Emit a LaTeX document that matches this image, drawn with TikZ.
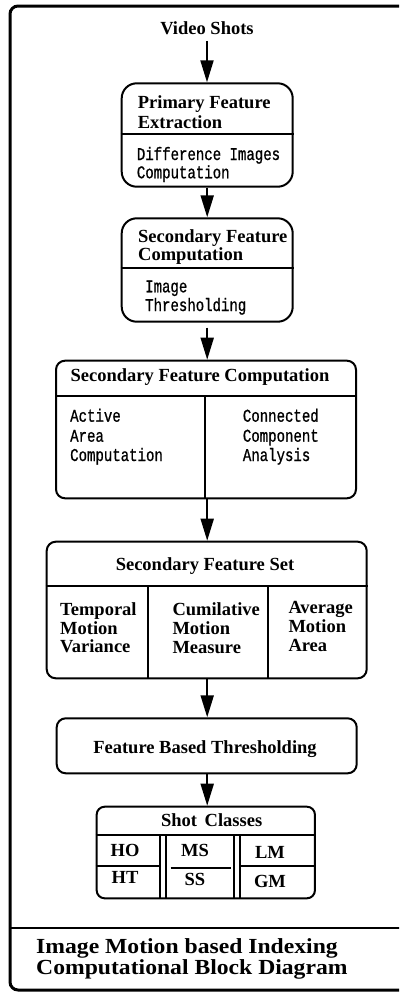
\documentclass[tikz,border=0pt]{standalone}
\usepackage{fontspec}
\setmainfont{Liberation Serif}
\newfontfamily\twfont[FakeStretch=0.78,FakeBold=0.8]{Liberation Mono}
\newfontfamily\footfont[FakeStretch=1.1]{Liberation Serif}
\usetikzlibrary{arrows.meta}
\tikzset{
  bigbox/.style={draw, line width=2pt, rounded corners=15pt, inner sep=0pt},
  midbox/.style={draw, line width=2pt, rounded corners=9pt, inner sep=0pt},
  tb/.style={font=\bfseries\fontsize{18.5}{20}\selectfont, inner sep=0pt, anchor=base west},
  tbc/.style={tb, anchor=base},
  tw/.style={font=\twfont\fontsize{18}{20}\selectfont, inner sep=0pt, anchor=base west},
  ft/.style={font=\footfont\bfseries\fontsize{21.5}{24}\selectfont, inner sep=0pt, anchor=base west},
  arr/.style={-{Triangle[length=22pt,width=13pt]}, line width=2pt},
  divline/.style={line width=1.8pt},
}
\begin{document}
\begin{tikzpicture}[x=1pt,y=-1pt]
\useasboundingbox (0,0) rectangle (399,993);
\clip (0,0) rectangle (399,993);
\fill[white] (0,0) rectangle (399,993);
% outer frame (open on the right)
\draw[line width=3pt, rounded corners=8pt] (410,6) -- (10,6) -- (10,990) -- (410,990);
\draw[line width=2.5pt] (10,928) -- (410,928);

% title
\node[tbc] (vs) at (207,34.3) {Video Shots};

% box 1
\node[bigbox, minimum width=171pt, minimum height=103.4pt] (b1) at (207.2,135) {};
\draw[divline] (b1.west |- 0,134.3) -- (b1.east |- 0,134.3);
\node[tb] (b1t1) at (137.7,108.3) {Primary Feature};
\node[tb] (b1t2) at (137.7,128.3) {Extraction};
\node[tw] (b1s1) at (136.7,160) {Difference Images};
\node[tw] (b1s2) at (136.7,178.3) {Computation};

% box 2
\node[bigbox, minimum width=171pt, minimum height=103.4pt] (b2) at (207.2,270) {};
\draw[divline] (b2.west |- 0,268.3) -- (b2.east |- 0,268.3);
\node[tb] (b2t1) at (138,242.7) {Secondary Feature};
\node[tb] (b2t2) at (138,260) {Computation};
\node[tw] (b2s1) at (145,292.3) {Image};
\node[tw] (b2s2) at (145,311) {Thresholding};

% box 3
\node[midbox, minimum width=300pt, minimum height=137.6pt] (b3) at (206,429.5) {};
\draw[divline] (b3.west |- 0,395.7) -- (b3.east |- 0,395.7);
\draw[divline] (204.7,395.7) -- (204.7,498.3);
\node[tbc] (b3t) at (200,381.7) {Secondary Feature Computation};
\node[tw] (b3l1) at (70,421.7) {Active};
\node[tw] (b3l2) at (70,441.7) {Area};
\node[tw] (b3l3) at (70,461) {Computation};
\node[tw] (b3r1) at (242.7,421.7) {Connected};
\node[tw] (b3r2) at (242.7,441.7) {Component};
\node[tw] (b3r3) at (242.7,461) {Analysis};

% box 4
\node[midbox, minimum width=320pt, minimum height=136.6pt] (b4) at (206.7,610) {};
\draw[divline] (b4.west |- 0,585.7) -- (b4.east |- 0,585.7);
\draw[divline] (147.7,585.7) -- (147.7,678.3);
\draw[divline] (268.3,585.7) -- (268.3,678.3);
\node[tbc] (b4t) at (205,570) {Secondary Feature Set};
\node[tb] (b4a1) at (60,615) {Temporal};
\node[tb] (b4a2) at (60,634) {Motion};
\node[tb] (b4a3) at (60,652.7) {Variance};
\node[tb] (b4b1) at (172.3,615) {Cumilative};
\node[tb] (b4b2) at (172.3,634) {Motion};
\node[tb] (b4b3) at (172.3,653) {Measure};
\node[tb] (b4c1) at (288.3,613.3) {Average};
\node[tb] (b4c2) at (288.3,632.7) {Motion};
\node[tb] (b4c3) at (288.3,651.7) {Area};

% box 5
\node[midbox, minimum width=300pt, minimum height=55pt] (b5) at (206.7,745.8) {};
\node[tbc] (b5t) at (205,753.3) {Feature Based Thresholding};

% box 6
\node[midbox, rounded corners=8pt, minimum width=218.3pt, minimum height=91.6pt] (b6) at (205.8,852.5) {};
\draw[divline] (b6.west |- 0,835) -- (b6.east |- 0,835);
\draw[divline] (160,835) -- (160,898.3);
\draw[divline] (166,835) -- (166,898.3);
\draw[divline] (234,835) -- (234,898.3);
\draw[divline] (240,835) -- (240,898.3);
\draw[divline] (b6.west |- 0,865.7) -- (160,865.7);
\draw[divline] (170.7,867.7) -- (230.7,867.7);
\draw[divline] (240,865.7) -- (b6.east |- 0,865.7);
\node[tbc] (b6t) at (211.7,826.7) {Shot\hspace{3pt} Classes};
\node[tbc] (ho) at (125,856) {HO};
\node[tbc] (ht) at (125,883.3) {HT};
\node[tbc] (ms) at (195,856) {MS};
\node[tbc] (ss) at (195,885) {SS};
\node[tbc] (lm) at (270,858) {LM};
\node[tbc] (gm) at (270,887) {GM};

% footer
\node[ft] (f1) at (36,953.5) {Image Motion based Indexing};
\node[ft] (f2) at (36,974) {Computational Block Diagram};

% arrows
\draw[arr, shorten <=6pt] (vs.south) -- (vs.south |- b1.north);
\draw[arr] (b1.south) -- (b1.south |- b2.north);
\draw[arr, shorten <=5pt] (b2.south) -- (b2.south |- b3.north);
\draw[arr] (b2.south |- b3.south) -- (b2.south |- b4.north);
\draw[arr] (b2.south |- b4.south) -- (b2.south |- b5.north);
\draw[arr] (b2.south |- b5.south) -- (b2.south |- b6.north);
\end{tikzpicture}
\end{document}
